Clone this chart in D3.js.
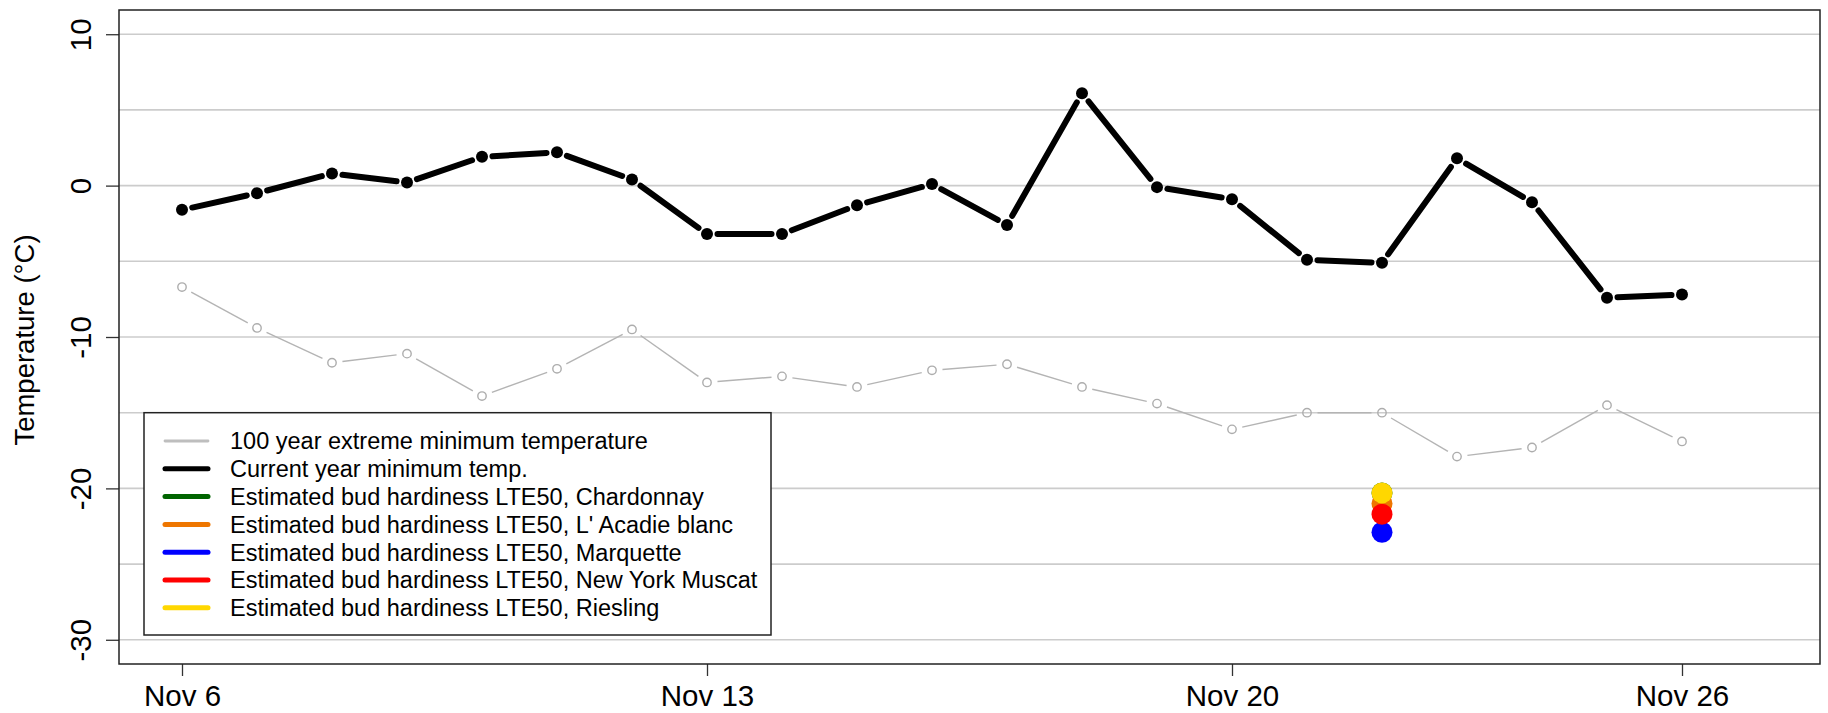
<!DOCTYPE html>
<html>
<head>
<meta charset="utf-8">
<script src="https://cdn.jsdelivr.net/npm/d3@7"></script>
<style>
  body { margin: 0; background: #ffffff; }
  svg { display: block; font-family: "Liberation Sans", Arial, Helvetica, sans-serif; }
</style>
</head>
<body>
<svg id="chart" width="1828" height="713"></svg>
<script>
// ---- data ----
const days = ["Nov 6","Nov 7","Nov 8","Nov 9","Nov 10","Nov 11","Nov 12","Nov 13","Nov 14","Nov 15",
              "Nov 16","Nov 17","Nov 18","Nov 19","Nov 20","Nov 21","Nov 22","Nov 23","Nov 24","Nov 25","Nov 26"];
const currentMin = [-1.6,-0.5,0.8,0.2,1.9,2.2,0.4,-3.2,-3.2,-1.3,
                    0.1,-2.6,6.1,-0.1,-0.9,-4.9,-5.1,1.8,-1.1,-7.4,-7.2];
const extremeMin = [-6.7,-9.4,-11.7,-11.1,-13.9,-12.1,-9.5,-13.0,-12.6,-13.3,
                    -12.2,-11.8,-13.3,-14.4,-16.1,-15.0,-15.0,-17.9,-17.3,-14.5,-16.9];
const hardinessDay = "Nov 22";
const varieties = ["Chardonnay","L' Acadie blanc","Marquette","New York Muscat","Riesling"];
const hardiness = [-20.3,-21.0,-22.9,-21.7,-20.3];
const varietyColors = ["#006400","#ee7600","#0000ff","#ff0000","#ffd700"];
const xTickDays = ["Nov 6","Nov 13","Nov 20","Nov 26"];
const yTicks = [10,0,-10,-20,-30];
const yGrid = [10,5,0,-5,-10,-15,-20,-25,-30];
const legendLabels = ["100 year extreme minimum temperature","Current year minimum temp."]
  .concat(varieties.map(v => "Estimated bud hardiness LTE50, " + v));
const legendColors = ["#bebebe","#000000"].concat(varietyColors);

// ---- layout ----
const plot = {left: 119, right: 1820, top: 10, bottom: 664};
const parseDay = d3.timeParse("%b %d");
const dates = days.map(parseDay);
const svg = d3.select("#chart");

const pad = 0.84; // days of padding on each side
const xStart = new Date(dates[0].getTime() - pad * 864e5);
const xEnd = new Date(d3.timeDay.offset(dates[dates.length - 1], 1).getTime() + pad * 864e5);
const x = d3.scaleTime().domain([xStart, xEnd]).range([plot.left, plot.right]);
const y = d3.scaleLinear().domain([-31.6, 11.6]).range([plot.bottom, plot.top]);

// horizontal grid
svg.append("g").selectAll("line").data(yGrid).join("line")
  .attr("x1", plot.left).attr("x2", plot.right)
  .attr("y1", d => y(d)).attr("y2", d => y(d))
  .attr("stroke", "#cccccc").attr("stroke-width", 1.6);

// y axis
const yAxis = svg.append("g").attr("transform", `translate(${plot.left},0)`)
  .call(d3.axisLeft(y).tickValues(yTicks).tickSize(13).tickPadding(0).tickFormat(d3.format("d")));
yAxis.select(".domain").remove();
yAxis.selectAll(".tick line").attr("stroke", "#333").attr("stroke-width", 1.3);
yAxis.selectAll(".tick text")
  .attr("x", null).attr("dy", null)
  .attr("text-anchor", "middle")
  .attr("transform", `translate(${90.5 - plot.left},0) rotate(-90)`)
  .attr("font-size", 29.5).attr("fill", "#000")
  .text(d => d < 0 ? "-" + Math.abs(d) : d);

// x axis
const xAxis = svg.append("g").attr("transform", `translate(0,${plot.bottom})`)
  .call(d3.axisBottom(x).tickValues(xTickDays.map(parseDay)).tickSize(12).tickPadding(0)
    .tickFormat(d3.timeFormat("%b %-d")));
xAxis.select(".domain").remove();
xAxis.selectAll(".tick line").attr("stroke", "#333").attr("stroke-width", 1.3);
xAxis.selectAll(".tick text").attr("dy", null).attr("y", 42)
  .attr("font-size", 29.5).attr("fill", "#000");

// y title
svg.append("text")
  .attr("transform", `translate(34,${(plot.top + plot.bottom) / 2 + 3}) rotate(-90)`)
  .attr("text-anchor", "middle").attr("font-size", 27.5).attr("fill", "#000")
  .text("Temperature (°C)");

// line with gaps around each point (point-and-line style)
function gappedSegments(xs, ys, gap) {
  const segs = [];
  for (let i = 0; i < xs.length - 1; i++) {
    const x0 = xs[i], y0 = ys[i], x1 = xs[i + 1], y1 = ys[i + 1];
    const len = Math.hypot(x1 - x0, y1 - y0);
    if (len <= 2 * gap) continue;
    const ux = (x1 - x0) / len, uy = (y1 - y0) / len;
    segs.push({x1: x0 + ux * gap, y1: y0 + uy * gap, x2: x1 - ux * gap, y2: y1 - uy * gap});
  }
  return segs;
}

// 100 year extreme minimum
const exX = dates.map(d => x(d)), exY = extremeMin.map(v => y(v));
svg.append("g").selectAll("line").data(gappedSegments(exX, exY, 10.5)).join("line")
  .attr("x1", d => d.x1).attr("y1", d => d.y1).attr("x2", d => d.x2).attr("y2", d => d.y2)
  .attr("stroke", "#b4b4b4").attr("stroke-width", 1.4);
svg.append("g").selectAll("circle").data(extremeMin).join("circle")
  .attr("cx", (d, i) => x(dates[i])).attr("cy", d => y(d)).attr("r", 4.2)
  .attr("fill", "none").attr("stroke", "#adadad").attr("stroke-width", 1.4);

// current year minimum
const cuX = dates.map(d => x(d)), cuY = currentMin.map(v => y(v));
svg.append("g").selectAll("line").data(gappedSegments(cuX, cuY, 10.5)).join("line")
  .attr("x1", d => d.x1).attr("y1", d => d.y1).attr("x2", d => d.x2).attr("y2", d => d.y2)
  .attr("stroke", "#000").attr("stroke-width", 6).attr("stroke-linecap", "round");
svg.append("g").selectAll("circle").data(currentMin).join("circle")
  .attr("cx", (d, i) => x(dates[i])).attr("cy", d => y(d)).attr("r", 6)
  .attr("fill", "#000");

// bud hardiness estimates
svg.append("g").selectAll("circle").data(hardiness).join("circle")
  .attr("cx", x(parseDay(hardinessDay))).attr("cy", d => y(d)).attr("r", 10.5)
  .attr("fill", (d, i) => varietyColors[i]);

// plot frame
svg.append("rect")
  .attr("x", plot.left).attr("y", plot.top)
  .attr("width", plot.right - plot.left).attr("height", plot.bottom - plot.top)
  .attr("fill", "none").attr("stroke", "#222").attr("stroke-width", 1.5);

// legend
const leg = {left: 144, right: 771, top: y(-15), bottom: 635, firstRow: 441, rowStep: 27.8};
const lg = svg.append("g");
lg.append("rect")
  .attr("x", leg.left).attr("y", leg.top)
  .attr("width", leg.right - leg.left).attr("height", leg.bottom - leg.top)
  .attr("fill", "#fff").attr("stroke", "#222").attr("stroke-width", 1.5);
const rows = lg.selectAll("g.row").data(legendLabels).join("g")
  .attr("class", "row")
  .attr("transform", (d, i) => `translate(0,${leg.firstRow + i * leg.rowStep})`);
rows.append("line")
  .attr("x1", 165).attr("x2", 208).attr("y1", 0).attr("y2", 0)
  .attr("stroke", (d, i) => legendColors[i])
  .attr("stroke-width", (d, i) => i === 0 ? 2.8 : 5)
  .attr("stroke-linecap", "round");
rows.append("text")
  .attr("x", 230).attr("y", 8.4)
  .attr("font-size", 23.5).attr("fill", "#000")
  .text(d => d);
</script>
</body>
</html>
